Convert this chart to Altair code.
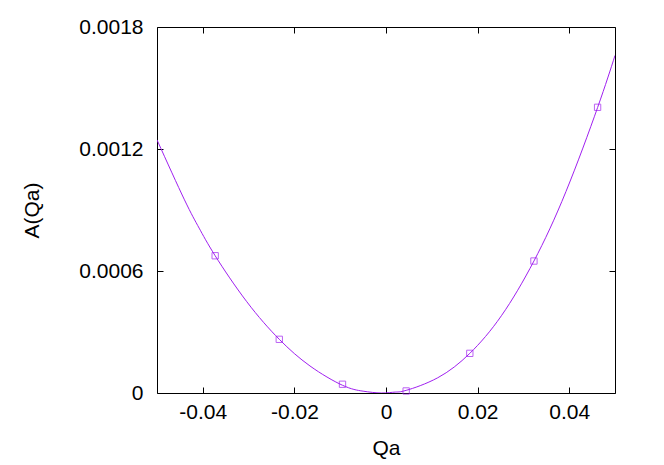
import altair as alt
import pandas as pd

# measured points
qa_pts = [-0.0373, -0.0233, -0.0095, 0.0044, 0.0183, 0.0323, 0.0462]
a_pts = [0.000675, 0.000264, 0.000043, 0.00001, 0.000195, 0.000649, 0.001405]

# fitted curve
qa_curve = [-0.05, -0.044, -0.0408, -0.0373, -0.0304, -0.0233, -0.0166, -0.0095,
            -0.005, -0.001, 0.002, 0.0044, 0.0113, 0.0183, 0.0252, 0.0323,
            0.0393, 0.0462, 0.05]
a_curve = [0.001245, 0.00095, 0.000811, 0.000675, 0.000449, 0.000264, 0.000133, 0.000038,
           0.000009, 0.0, 0.0000045, 0.000013, 0.000075, 0.000195, 0.00038, 0.000649,
           0.000991, 0.001404, 0.00166]

x_ticks = [-0.04, -0.02, 0, 0.02, 0.04]
y_ticks = [0, 0.0006, 0.0012, 0.0018]

pts = pd.DataFrame({"Qa": qa_pts, "A": a_pts})
curve = pd.DataFrame({"Qa": qa_curve, "A": a_curve})

COLOR = "#a020f0"
FONT = "Liberation Sans"
FS = 21

xscale = alt.Scale(domain=[-0.05, 0.05], nice=False, zero=False)
yscale = alt.Scale(domain=[0, 0.0018], nice=False, zero=False)

line = alt.Chart(curve).mark_line(color=COLOR, strokeWidth=1, interpolate="natural", clip=True).encode(
    x=alt.X("Qa:Q", scale=xscale,
            axis=alt.Axis(orient="bottom", values=x_ticks, title="Qa", offset=-6, tickSize=6,
                          labelPadding=8, titlePadding=15, grid=False, domain=False,
                          labelExpr="replace(format(datum.value, '.2~f'), '\u2212', '-')")),
    y=alt.Y("A:Q", scale=yscale,
            axis=alt.Axis(orient="left", values=y_ticks, title="A(Qa)", offset=-6, tickSize=6,
                          labelPadding=14, titlePadding=36, grid=False, domain=False,
                          format=".4~f")),
)

points = alt.Chart(pts).mark_point(shape="square", color=COLOR, size=40, strokeWidth=1, filled=False).encode(
    x=alt.X("Qa:Q", scale=xscale,
            axis=alt.Axis(orient="top", values=x_ticks, title=None, labels=False, offset=-6,
                          tickSize=6, grid=False, domain=False)),
    y=alt.Y("A:Q", scale=yscale,
            axis=alt.Axis(orient="right", values=y_ticks, title=None, labels=False, offset=-6,
                          tickSize=6, grid=False, domain=False)),
)

chart = alt.layer(line, points).resolve_axis(x="independent", y="independent").properties(
    width=458,
    height=366,
    autosize=alt.AutoSizeParams(type="none"),
    padding={"left": 149, "top": 19, "right": 41, "bottom": 72},
    background="white",
).configure_view(stroke="black", strokeWidth=1).configure_axis(
    labelFont=FONT, titleFont=FONT, labelFontSize=FS, titleFontSize=FS,
    labelColor="black", titleColor="black", tickColor="black", tickWidth=1,
    titleFontWeight="normal",
)

chart.save("out.html", embed_options={"renderer": "svg", "actions": False})
